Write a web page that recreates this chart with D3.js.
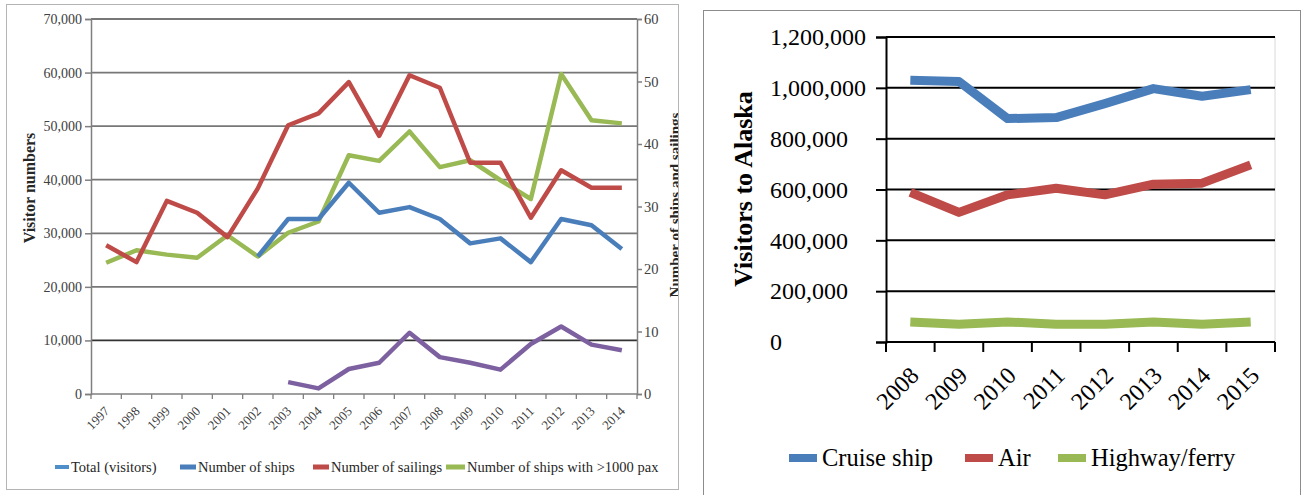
<!DOCTYPE html>
<html>
<head>
<meta charset="utf-8">
<script src="https://cdn.jsdelivr.net/npm/d3@7"></script>
<style>
  body { margin: 0; background: #fff; }
  svg { display: block; }
</style>
</head>
<body>
<div id="chart"></div>
<script>
"use strict";

// ---- left chart data (ships / sailings on right axis, 0-60) ----
const years1 = ["1997", "1998", "1999", "2000", "2001", "2002", "2003", "2004", "2005",
    "2006", "2007", "2008", "2009", "2010", "2011", "2012", "2013", "2014"];
const sailings = [23.8, 21.1, 30.9, 29.0, 25.1, 32.9, 43.0, 44.9, 49.9, 41.3, 51.0, 49.0, 37.0, 37.0, 28.2, 35.8, 33.0, 33.0];
const bigShips = [21.0, 23.0, 22.3, 21.8, 25.4, 22.0, 25.8, 27.6, 38.2, 37.3, 42.0, 36.3, 37.4, 34.2, 31.2, 51.2, 43.8, 43.3];
const ships = [null, null, null, null, null, 22.0, 28.0, 28.0, 33.8, 29.0, 29.9, 28.0, 24.1, 24.9, 21.1, 28.0, 27.0, 23.2];
const purpleVals = [null, null, null, null, null, null, 1.9, 0.9, 4.0, 5.0, 9.8, 5.9, 5.0, 3.9, 8.0, 10.8, 7.9, 7.0];
const leftTicks = [0, 10000, 20000, 30000, 40000, 50000, 60000, 70000];
const rightTicks = [0, 10, 20, 30, 40, 50, 60];
const legend1 = ["Total (visitors)", "Number of ships", "Number of sailings", "Number of ships with >1000 pax"];

// ---- right chart data ----
const years2 = ["2008", "2009", "2010", "2011", "2012", "2013", "2014", "2015"];
const cruise = [1030000, 1025000, 879000, 883000, 938000, 997000, 967000, 993000];
const air = [589000, 510000, 579000, 605000, 579000, 621000, 625000, 697000];
const highway = [79000, 70000, 79000, 70000, 70000, 79000, 70000, 79000];
const visitorTicks = [0, 200000, 400000, 600000, 800000, 1000000, 1200000];
const legend2 = ["Cruise ship", "Air", "Highway/ferry"];

const COLOR = { blue: "#4a7ebb", red: "#be4b48", green: "#98b954", purple: "#7d60a0", light: "#4f8fc9" };
const SERIF = "'Liberation Serif', 'DejaVu Serif', serif";

const svg = d3.select("#chart").append("svg")
    .attr("width", 1302)
    .attr("height", 495)
    .style("font-family", SERIF);

// =================== left panel ===================
svg.append("clipPath").attr("id", "leftClip")
    .append("rect").attr("x", 6).attr("y", 4).attr("width", 673).attr("height", 486);

const left = svg.append("g").attr("clip-path", "url(#leftClip)");

svg.append("rect")
    .attr("x", 6.5).attr("y", 4.5).attr("width", 672).attr("height", 485)
    .attr("fill", "none").attr("stroke", "#b4b4b4");

const L = { left: 91, right: 637, top: 19, bottom: 394 };
const xL = d3.scaleBand().domain(years1).range([L.left, L.right]);
const yL = d3.scaleLinear().domain([0, 70000]).range([L.bottom, L.top]);
const yR = d3.scaleLinear().domain([0, 60]).range([L.bottom, L.top]);

// gridlines
left.append("g")
    .selectAll("line")
    .data(leftTicks.filter(d => d > 0))
    .enter().append("line")
    .attr("x1", L.left).attr("x2", L.right)
    .attr("y1", d => yL(d)).attr("y2", d => yL(d))
    .attr("stroke", d => d === 10000 ? "#333" : "#777")
    .attr("stroke-width", 1.8);

// left axis
const axL = left.append("g")
    .attr("transform", `translate(${L.left},0)`)
    .call(d3.axisLeft(yL).tickValues(leftTicks).tickSize(6).tickPadding(3).tickFormat(d3.format(",")));
axL.select(".domain").attr("stroke", "#7f7f7f").attr("stroke-width", 1.5);
axL.selectAll(".tick line").attr("stroke", "#7f7f7f").attr("stroke-width", 1.5);
axL.selectAll("text").attr("font-family", SERIF).attr("font-size", 14).attr("fill", "#404040");

// right axis
const axR = left.append("g")
    .attr("transform", `translate(${L.right},0)`)
    .call(d3.axisRight(yR).tickValues(rightTicks).tickSize(5).tickPadding(2));
axR.select(".domain").attr("stroke", "#7f7f7f").attr("stroke-width", 1.5);
axR.selectAll(".tick line").attr("stroke", "#7f7f7f").attr("stroke-width", 1.5);
axR.selectAll("text").attr("font-family", SERIF).attr("font-size", 14.5).attr("fill", "#404040");

// x axis: labels from band axis, ticks on band boundaries
left.append("line")
    .attr("x1", L.left).attr("x2", L.right).attr("y1", L.bottom).attr("y2", L.bottom)
    .attr("stroke", "#7f7f7f").attr("stroke-width", 1.5);
left.append("g").selectAll("line")
    .data(years1.map(d => xL(d)).concat([L.right]))
    .enter().append("line")
    .attr("x1", d => d).attr("x2", d => d)
    .attr("y1", L.bottom).attr("y2", L.bottom + 5)
    .attr("stroke", "#7f7f7f").attr("stroke-width", 1.3);

const axX = left.append("g")
    .attr("transform", `translate(0,${L.bottom})`)
    .call(d3.axisBottom(xL).tickSize(0));
axX.select(".domain").remove();
axX.selectAll("text")
    .attr("font-family", SERIF).attr("font-size", 13).attr("fill", "#404040")
    .attr("text-anchor", "end")
    .attr("dy", null).attr("y", 0)
    .attr("transform", "translate(4,18) rotate(-45)");

// axis titles
left.append("text")
    .attr("transform", "translate(35,188) rotate(-90)")
    .attr("text-anchor", "middle")
    .attr("font-size", 16).attr("font-weight", "bold").attr("fill", "#262626")
    .text("Visitor numbers");
left.append("text")
    .attr("transform", "translate(680,205) rotate(-90)")
    .attr("text-anchor", "middle")
    .attr("font-size", 15).attr("font-weight", "bold").attr("fill", "#262626")
    .text("Number of ships and sailings");

// lines
const lineL = d3.line()
    .defined(d => d != null)
    .x((d, i) => xL(years1[i]) + xL.bandwidth() / 2)
    .y(d => yR(d));

[[bigShips, COLOR.green], [sailings, COLOR.red], [ships, COLOR.blue], [purpleVals, COLOR.purple]]
    .forEach(([vals, c]) => {
        left.append("path")
            .attr("d", lineL(vals))
            .attr("fill", "none")
            .attr("stroke", c)
            .attr("stroke-width", 4.5)
            .attr("stroke-linejoin", "round");
    });

// legend
const leg1 = left.append("g").attr("transform", "translate(0,467)");
const leg1X = [55, 180, 313, 446];
const leg1W = [14, 16, 16, 19];
const leg1H = [4, 5, 5, 5];
const leg1C = [COLOR.light, COLOR.blue, COLOR.red, COLOR.green];
legend1.forEach((name, i) => {
    leg1.append("rect")
        .attr("x", leg1X[i]).attr("y", -leg1H[i] / 2)
        .attr("width", leg1W[i]).attr("height", leg1H[i])
        .attr("fill", leg1C[i]);
    leg1.append("text")
        .attr("x", leg1X[i] + leg1W[i] + 2).attr("y", 5)
        .attr("font-size", 14.5).attr("fill", "#262626")
        .text(name);
});

// =================== right panel ===================
svg.append("rect")
    .attr("x", 703.5).attr("y", 10.5).attr("width", 597).attr("height", 500)
    .attr("fill", "none").attr("stroke", "#8c8c8c");

const right = svg.append("g");
const R = { left: 886, right: 1275, top: 37, bottom: 342 };
const xR = d3.scaleBand().domain(years2).range([R.left, R.right]);
const yV = d3.scaleLinear().domain([0, 1200000]).range([R.bottom, R.top]);

right.append("line")
    .attr("x1", R.right).attr("x2", R.right).attr("y1", R.top).attr("y2", R.bottom)
    .attr("stroke", "#d9d9d9");

right.append("g").selectAll("line")
    .data(visitorTicks.filter(d => d > 0))
    .enter().append("line")
    .attr("x1", R.left).attr("x2", R.right)
    .attr("y1", d => yV(d)).attr("y2", d => yV(d))
    .attr("stroke", "#000").attr("stroke-width", 2);

const axV = right.append("g")
    .attr("transform", `translate(${R.left},0)`)
    .call(d3.axisLeft(yV).tickValues(visitorTicks).tickSize(10).tickFormat(d3.format(",")));
axV.select(".domain").attr("stroke", "#000").attr("stroke-width", 2);
axV.selectAll(".tick line").attr("stroke", "#000").attr("stroke-width", 2);
axV.selectAll("text")
    .attr("font-family", SERIF).attr("font-size", 24).attr("fill", "#000")
    .attr("text-anchor", "start").attr("x", 770 - R.left);

right.append("line")
    .attr("x1", R.left).attr("x2", R.right).attr("y1", R.bottom).attr("y2", R.bottom)
    .attr("stroke", "#000").attr("stroke-width", 2);
right.append("g").selectAll("line")
    .data(years2.map(d => xR(d)).concat([R.right]))
    .enter().append("line")
    .attr("x1", d => d).attr("x2", d => d)
    .attr("y1", R.bottom).attr("y2", R.bottom + 10)
    .attr("stroke", "#000").attr("stroke-width", 2);

const axX2 = right.append("g")
    .attr("transform", `translate(0,${R.bottom})`)
    .call(d3.axisBottom(xR).tickSize(0));
axX2.select(".domain").remove();
axX2.selectAll("text")
    .attr("font-family", SERIF).attr("font-size", 24).attr("fill", "#000")
    .attr("text-anchor", "end")
    .attr("dy", null).attr("y", 0)
    .attr("transform", "translate(10,35) rotate(-45)");

right.append("text")
    .attr("transform", "translate(752,189) rotate(-90)")
    .attr("text-anchor", "middle")
    .attr("font-size", 26).attr("font-weight", "bold").attr("fill", "#000")
    .text("Visitors to Alaska");

const lineR = d3.line()
    .x((d, i) => xR(years2[i]) + xR.bandwidth() / 2)
    .y(d => yV(d));

[[cruise, COLOR.blue], [air, COLOR.red], [highway, COLOR.green]].forEach(([vals, c]) => {
    right.append("path")
        .attr("d", lineR(vals))
        .attr("fill", "none")
        .attr("stroke", c)
        .attr("stroke-width", 9)
        .attr("stroke-linejoin", "round");
});

const leg2 = right.append("g").attr("transform", "translate(0,458)");
const leg2X = [789, 965, 1058];
[COLOR.blue, COLOR.red, COLOR.green].forEach((c, i) => {
    leg2.append("rect")
        .attr("x", leg2X[i]).attr("y", -4)
        .attr("width", 28).attr("height", 8)
        .attr("fill", c);
    leg2.append("text")
        .attr("x", leg2X[i] + 33).attr("y", 8)
        .attr("font-size", 24.5).attr("fill", "#000")
        .text(legend2[i]);
});
</script>
</body>
</html>
